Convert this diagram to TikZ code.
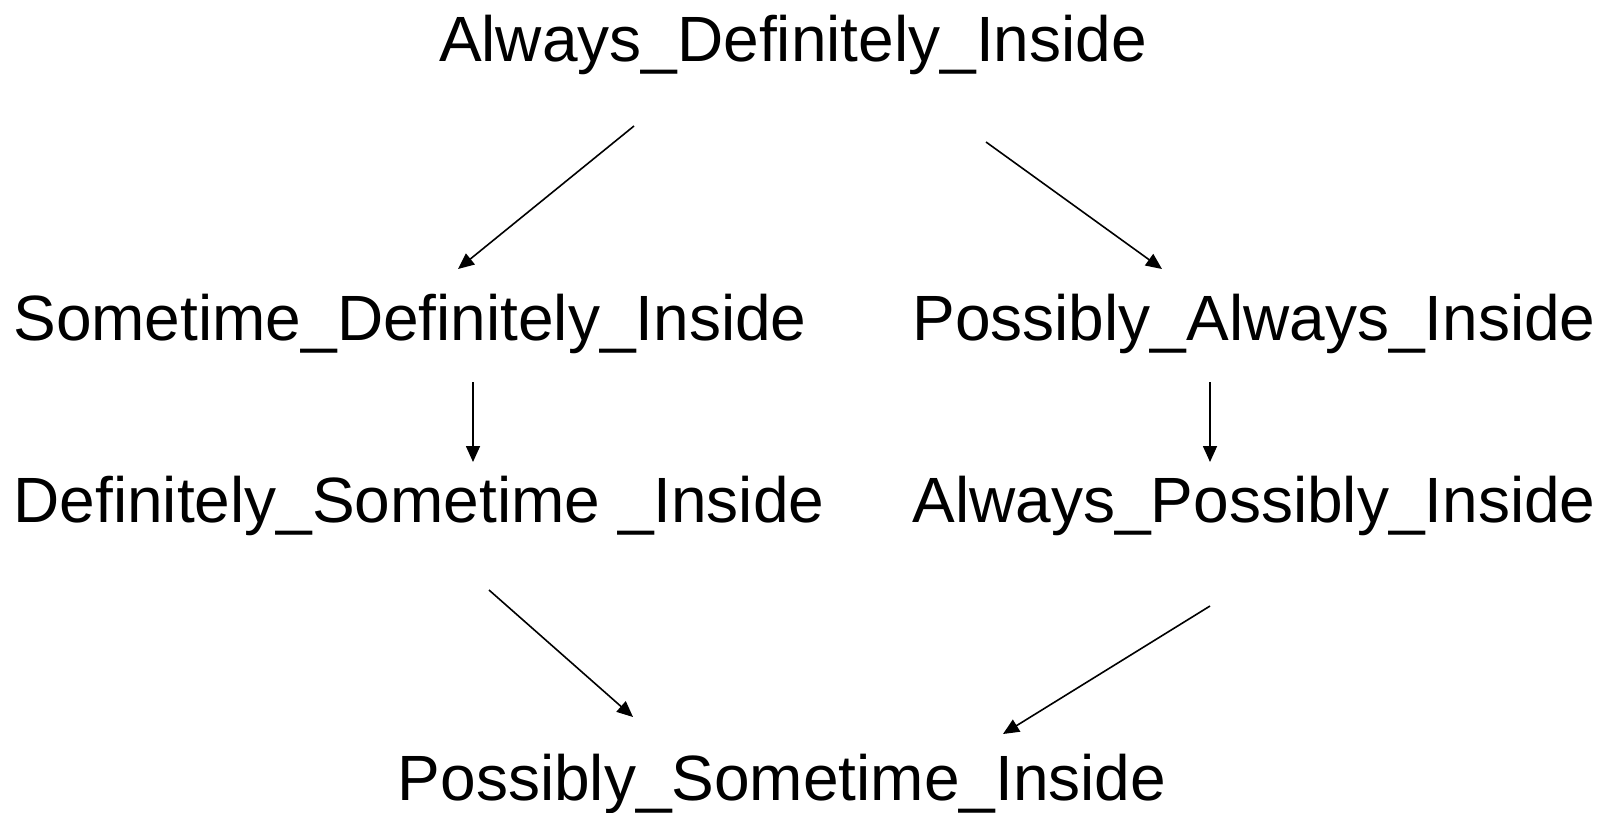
\documentclass[tikz,border=0pt]{standalone}
\usepackage{fontspec}
\setmainfont{Liberation Sans}
\usetikzlibrary{arrows.meta}
\begin{document}
\begin{tikzpicture}[x=1pt,y=-1pt,
  lbl/.style={anchor=base,inner sep=0pt,font=\fontsize{64}{70}\selectfont},
  arr/.style={line width=1.6pt,-{Triangle[length=16pt,width=14pt]}}]
\useasboundingbox (0,0) rectangle (1605,812);
\node[lbl] (adi) at (793,61) {Always\_Definitely\_Inside};
\node[lbl] (sdi) at (410,340) {Sometime\_Definitely\_Inside};
\node[lbl] (pai) at (1254,340) {Possibly\_Always\_Inside};
\node[lbl] (dsi) at (419,522) {Definitely\_Sometime \_Inside};
\node[lbl] (api) at (1254,522) {Always\_Possibly\_Inside};
\node[lbl] (psi) at (782,800) {Possibly\_Sometime\_Inside};
\coordinate (a1) at (634,126); \coordinate (b1) at (458,269);
\coordinate (a2) at (986,142); \coordinate (b2) at (1162,269);
\coordinate (a3) at (473,382); \coordinate (b3) at (473,462);
\coordinate (a4) at (1210,382); \coordinate (b4) at (1210,462);
\coordinate (a5) at (489,590); \coordinate (b5) at (633,717);
\coordinate (a6) at (1210,606); \coordinate (b6) at (1003,734);
\draw[arr] (a1) -- (b1);
\draw[arr] (a2) -- (b2);
\draw[arr] (a3) -- (b3);
\draw[arr] (a4) -- (b4);
\draw[arr] (a5) -- (b5);
\draw[arr] (a6) -- (b6);
\end{tikzpicture}
\end{document}
